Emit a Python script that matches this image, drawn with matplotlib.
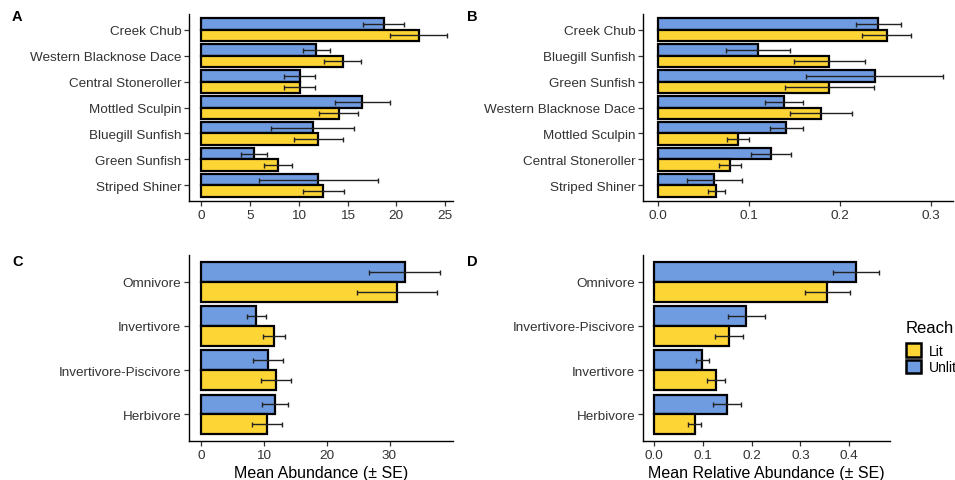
import matplotlib
matplotlib.use('Agg')
import matplotlib.pyplot as plt
from matplotlib.patches import Patch
import numpy as np

plt.rcParams['font.family'] = ['Liberation Sans', 'DejaVu Sans']

# panel A - abundance by species
species_a = ['Creek Chub', 'Western Blacknose Dace', 'Central Stoneroller', 'Mottled Sculpin',
             'Bluegill Sunfish', 'Green Sunfish', 'Striped Shiner']
unlit_a = [18.7, 11.8, 10.1, 16.5, 11.45, 5.45, 12.0]
unlit_a_se = [2.1, 1.4, 1.6, 2.8, 4.25, 1.35, 6.1]
lit_a = [22.3, 14.5, 10.1, 14.1, 12.0, 7.9, 12.5]
lit_a_se = [2.9, 1.9, 1.6, 2.0, 2.5, 1.45, 2.1]

# panel B - relative abundance by species
species_b = ['Creek Chub', 'Bluegill Sunfish', 'Green Sunfish', 'Western Blacknose Dace',
             'Mottled Sculpin', 'Central Stoneroller', 'Striped Shiner']
unlit_b = [0.242, 0.110, 0.238, 0.138, 0.141, 0.124, 0.062]
unlit_b_se = [0.025, 0.035, 0.075, 0.021, 0.018, 0.022, 0.030]
lit_b = [0.251, 0.188, 0.188, 0.179, 0.088, 0.079, 0.064]
lit_b_se = [0.027, 0.039, 0.049, 0.034, 0.012, 0.012, 0.0095]

# panel C - abundance by feeding guild
guild_c = ['Omnivore', 'Invertivore', 'Invertivore-Piscivore', 'Herbivore']
unlit_c = [32.4, 8.8, 10.7, 11.8]
unlit_c_se = [5.6, 1.5, 2.4, 2.1]
lit_c = [31.2, 11.6, 12.0, 10.5]
lit_c_se = [6.35, 1.8, 2.4, 2.35]

# panel D - relative abundance by feeding guild
guild_d = ['Omnivore', 'Invertivore-Piscivore', 'Invertivore', 'Herbivore']
unlit_d = [0.414, 0.189, 0.099, 0.150]
unlit_d_se = [0.047, 0.038, 0.0137, 0.0287]
lit_d = [0.355, 0.154, 0.127, 0.083]
lit_d_se = [0.0465, 0.029, 0.0188, 0.014]

col_lit = '#FDD535'
col_unlit = '#6F9BE0'
txt_col = '#333333'


def panel(ax, cats, unlit, unlit_se, lit, lit_se, xlim, xticks, xticklabels):
    n = len(cats)
    y = np.arange(n)[::-1].astype(float)
    h = 0.45
    ax.barh(y + h / 2, unlit, height=h, color=col_unlit, edgecolor='black', linewidth=1.6, zorder=2)
    ax.barh(y - h / 2, lit, height=h, color=col_lit, edgecolor='black', linewidth=1.6, zorder=2)
    ax.errorbar(unlit, y + h / 2, xerr=unlit_se, fmt='none', ecolor='#222222', elinewidth=1.0,
                capsize=1.8, capthick=1.0, zorder=3)
    ax.errorbar(lit, y - h / 2, xerr=lit_se, fmt='none', ecolor='#222222', elinewidth=1.0,
                capsize=1.8, capthick=1.0, zorder=3)
    ax.set_yticks(y)
    ax.set_yticklabels(cats, fontsize=9.7, color=txt_col)
    ax.set_ylim(-0.6, n - 1 + 0.6)
    ax.set_xlim(*xlim)
    ax.set_xticks(xticks)
    ax.set_xticklabels(xticklabels, fontsize=9.7, color=txt_col)
    for s in ['top', 'right']:
        ax.spines[s].set_visible(False)
    ax.spines['left'].set_linewidth(1.0)
    ax.spines['bottom'].set_linewidth(1.0)
    ax.tick_params(length=3.5, width=0.9, color='#333333', pad=2)


fig = plt.figure(figsize=(9.55, 4.81), dpi=100)
W, H = 955.0, 481.0

axA = fig.add_axes([189 / W, 1 - 202 / H, (453 - 189) / W, (202 - 15) / H])
axB = fig.add_axes([643 / W, 1 - 202 / H, (953 - 643) / W, (202 - 15) / H])
axC = fig.add_axes([189 / W, 1 - 442 / H, (453 - 189) / W, (442 - 256) / H])
axD = fig.add_axes([643 / W, 1 - 442 / H, (890 - 643) / W, (442 - 256) / H])

panel(axA, species_a, unlit_a, unlit_a_se, lit_a, lit_a_se, (-1.23, 25.8),
      [0, 5, 10, 15, 20, 25], ['0', '5', '10', '15', '20', '25'])
panel(axB, species_b, unlit_b, unlit_b_se, lit_b, lit_b_se, (-0.0165, 0.324),
      [0, 0.1, 0.2, 0.3], ['0.0', '0.1', '0.2', '0.3'])
panel(axC, guild_c, unlit_c, unlit_c_se, lit_c, lit_c_se, (-1.9, 40.1),
      [0, 10, 20, 30], ['0', '10', '20', '30'])
panel(axD, guild_d, unlit_d, unlit_d_se, lit_d, lit_d_se, (-0.0226, 0.4835),
      [0, 0.1, 0.2, 0.3, 0.4], ['0.0', '0.1', '0.2', '0.3', '0.4'])

axC.set_xlabel('Mean Abundance (± SE)', fontsize=11.5, color='black', labelpad=3)
axD.set_xlabel('Mean Relative Abundance (± SE)', fontsize=11.5, color='black', labelpad=3)

for lab, x, yy in [('A', 12, 17), ('B', 467, 17), ('C', 12, 262), ('D', 467, 262)]:
    fig.text(x / W, 1 - yy / H, lab, fontsize=10.5, fontweight='bold', va='center', ha='left')

# legend: title drawn separately so the gap to the keys can be set
fig.text(906 / W, 1 - 329 / H, 'Reach', fontsize=12, va='center', ha='left')
handles = [Patch(facecolor=col_lit, edgecolor='black', linewidth=1.8, label='Lit'),
           Patch(facecolor=col_unlit, edgecolor='black', linewidth=1.8, label='Unlit')]
fig.legend(handles=handles, loc='upper left', bbox_to_anchor=(906 / W, 1 - 344 / H),
           frameon=False, fontsize=10, handlelength=1.1, handleheight=1.15,
           labelspacing=0.15, handletextpad=0.55, borderaxespad=0, borderpad=0)

plt.savefig('out.png', dpi=100)
